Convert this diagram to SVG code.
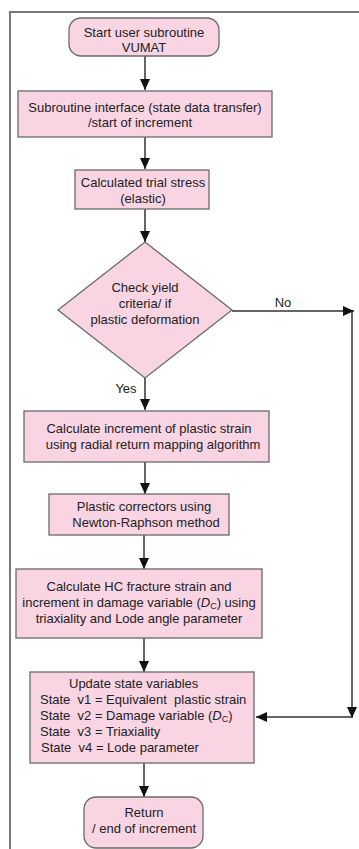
<svg xmlns="http://www.w3.org/2000/svg" width="359" height="849" viewBox="0 0 359 849">
<defs>
<style>
.n{fill:#f9d4e3;stroke:#6a6a6a;stroke-width:1.3}
.t{font-family:"Liberation Sans",Arial,sans-serif;font-size:13px;fill:#222;text-anchor:middle}
.tl{font-family:"Liberation Sans",Arial,sans-serif;font-size:13px;fill:#222}
.c{stroke:#333;stroke-width:1.5;fill:none}
.frame{fill:none;stroke:#7a7a7a;stroke-width:2}
</style>
<marker id="ah" markerUnits="userSpaceOnUse" markerWidth="12" markerHeight="12" viewBox="0 0 12 12" refX="11" refY="6" orient="auto">
<path d="M0,1 L11,6 L0,11 Z" fill="#111"/>
</marker>
</defs>
<rect width="359" height="849" fill="#fff"/>
<path class="frame" d="M10,849 L10,12 L359,12"/>

<g id="connectors">
<line class="c" x1="145" y1="56" x2="145" y2="90" marker-end="url(#ah)"/>
<line class="c" x1="145" y1="137" x2="145" y2="169" marker-end="url(#ah)"/>
<line class="c" x1="145" y1="209" x2="145" y2="242" marker-end="url(#ah)"/>
<line class="c" x1="145" y1="378" x2="145" y2="410" marker-end="url(#ah)"/>
<line class="c" x1="232" y1="311" x2="354" y2="311" marker-end="url(#ah)"/>
<line class="c" x1="352" y1="311" x2="352" y2="718" marker-end="url(#ah)"/>
<line class="c" x1="352" y1="717" x2="256" y2="717" marker-end="url(#ah)"/>
<line class="c" x1="145" y1="462" x2="145" y2="494" marker-end="url(#ah)"/>
<line class="c" x1="144" y1="535" x2="144" y2="569" marker-end="url(#ah)"/>
<line class="c" x1="144" y1="638" x2="144" y2="672" marker-end="url(#ah)"/>
<line class="c" x1="144" y1="763" x2="144" y2="797" marker-end="url(#ah)"/>
<text class="t" x="283" y="307">No</text>
<text class="t" x="126" y="393">Yes</text>
</g>

<g id="start">
<rect class="n" x="69" y="18" width="150" height="38" rx="12"/>
<text class="t" x="144" y="37">Start user subroutine</text>
<text class="t" x="144" y="52">VUMAT</text>
</g>

<g id="interface">
<rect class="n" x="18" y="91" width="254" height="46"/>
<text class="t" x="145" y="112">Subroutine interface (state data transfer)</text>
<text class="t" x="140" y="127">/start of increment</text>
</g>

<g id="trial">
<rect class="n" x="75" y="170" width="134" height="39"/>
<text class="t" x="143" y="187">Calculated trial stress</text>
<text class="t" x="143" y="203">(elastic)</text>
</g>

<g id="yield">
<polygon class="n" points="145,242 232,310 145,378 58,310"/>
<text class="t" x="145" y="292">Check yield</text>
<text class="t" x="145" y="308">criteria/ if</text>
<text class="t" x="145" y="324">plastic deformation</text>
</g>

<g id="increment">
<rect class="n" x="24" y="411" width="245" height="51"/>
<text class="t" x="149" y="433">Calculate increment of plastic strain</text>
<text class="t" x="153" y="449">using radial return mapping algorithm</text>
</g>

<g id="corrector">
<rect class="n" x="49" y="494" width="180" height="41"/>
<text class="t" x="144" y="511">Plastic correctors using</text>
<text class="t" x="146" y="527">Newton-Raphson method</text>
</g>

<g id="fracture">
<rect class="n" x="16" y="569" width="246" height="69"/>
<text class="t" x="139" y="591">Calculate HC fracture strain and</text>
<text class="t" x="139" y="607">increment in damage variable (<tspan font-style="italic">D</tspan><tspan font-size="9" dy="2">C</tspan><tspan dy="-2">) using</tspan></text>
<text class="t" x="139" y="623">triaxiality and Lode angle parameter</text>
</g>

<g id="update">
<rect class="n" x="30" y="672" width="224" height="91"/>
<text class="tl" x="69" y="688">Update state variables</text>
<text class="tl" x="40" y="704" xml:space="preserve">State  v1 = Equivalent  plastic strain</text>
<text class="tl" x="40" y="720" xml:space="preserve">State  v2 = Damage variable (<tspan font-style="italic">D</tspan><tspan font-size="9" dy="2">C</tspan><tspan dy="-2">)</tspan></text>
<text class="tl" x="40" y="736" xml:space="preserve">State  v3 = Triaxiality</text>
<text class="tl" x="41" y="752" xml:space="preserve">State  v4 = Lode parameter</text>
</g>

<g id="return">
<rect class="n" x="84" y="797" width="119" height="51" rx="12"/>
<text class="t" x="144" y="817">Return</text>
<text class="t" x="144" y="833">/ end of increment</text>
</g>
</svg>
